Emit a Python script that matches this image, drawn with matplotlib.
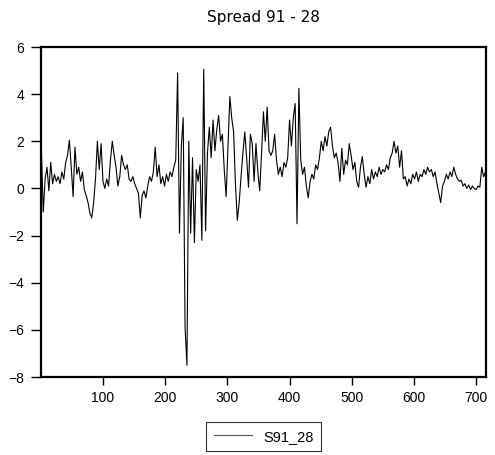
import numpy as np
import matplotlib
matplotlib.use("Agg")
import matplotlib.pyplot as plt

plt.rcParams["font.family"] = ["Liberation Sans", "DejaVu Sans"]

obs = np.arange(1, 716, 3)

s91_28 = [
    1.6, -1.0, 0.4, 0.9, -0.1, 1.1, 0.2, 0.6, 0.3, 0.5,
    0.2, 0.7, 0.4, 1.1, 1.4, 2.05, 0.9, -0.35, 1.75, 0.6,
    0.9, 0.3, 0.7, -0.05, -0.3, -0.6, -1.05, -1.25, -0.6, 0.4,
    2.0, 0.8, 1.9, 0.3, 0.0, 0.4, 0.1, 1.2, 2.0, 1.4,
    0.9, 0.1, 0.5, 1.4, 1.0, 0.8, 1.0, 0.4, 0.3, 0.5,
    0.2, 0.0, -0.2, -1.25, -0.3, -0.1, -0.4, 0.1, 0.5, 0.3,
    0.7, 1.75, 0.5, 1.0, 0.2, 0.5, 0.1, 0.6, 0.3, 0.7,
    0.5, 0.9, 1.2, 4.9, -1.9, 1.8, 3.0, -5.9, -7.5, 2.0,
    -1.9, 1.3, -2.3, 0.8, 0.3, 1.0, -2.2, 5.05, -1.8, 1.5,
    2.6, 1.3, 2.9, 1.6, 2.5, 3.1, 2.0, 2.3, 0.8, -0.35,
    1.8, 3.9, 3.0, 2.4, 0.2, -1.35, -0.6, 0.5, 1.5, 2.4,
    1.3, 0.05, 2.3, 1.9, 0.3, 1.9, 0.7, -0.1, 1.5, 3.25,
    2.0, 3.45, 1.6, 1.4, 1.6, 2.3, 1.2, 0.6, 0.9, 0.5,
    1.1, 0.9, 1.3, 2.9, 1.8, 3.0, 3.6, -1.5, 4.25, 1.2,
    0.6, 0.9, 0.1, -0.4, 0.3, 0.6, 0.4, 1.0, 0.8, 1.3,
    2.0, 1.6, 2.2, 1.8, 2.4, 2.6, 1.8, 1.3, 1.5, 1.1,
    0.3, 1.7, 0.6, 1.2, 1.0, 1.9, 1.4, 0.8, 1.1, 0.3,
    0.05, 0.9, 1.35, 0.6, 0.05, 0.5, 0.2, 0.8, 0.4, 0.7,
    0.5, 0.9, 0.6, 0.8, 0.7, 1.0, 0.8, 1.3, 1.5, 2.0,
    1.5, 1.8, 0.9, 1.6, 0.4, 0.5, 0.1, 0.4, 0.2, 0.6,
    0.4, 0.7, 0.3, 0.6, 0.5, 0.8, 0.6, 0.9, 0.7, 0.8,
    0.5, 0.7, 0.2, -0.2, -0.6, 0.1, 0.3, 0.6, 0.4, 0.7,
    0.5, 0.9, 0.6, 0.4, 0.3, 0.35, 0.1, 0.2, 0.0, 0.15,
    -0.05, 0.1, 0.0, -0.05, 0.1, 0.05, 0.9, 0.5, 0.7,
]

x_ticks = [100, 200, 300, 400, 500, 600, 700]
y_ticks = [-8, -6, -4, -2, 0, 2, 4, 6]

fig = plt.figure(figsize=(4.95, 4.55), dpi=100)
ax = fig.add_axes([0.083, 0.1714, 0.899, 0.7253])

ax.plot(obs, s91_28, color="black", linewidth=0.8, label="S91_28")

ax.set_xlim(0.5, 716)
ax.set_ylim(-8, 6)
ax.set_xticks(x_ticks)
ax.set_yticks(y_ticks)
ax.tick_params(axis="y", direction="out", length=7, width=1, labelsize=10, pad=5)
ax.tick_params(axis="x", direction="out", length=6, width=1, labelsize=10, pad=4)
for sp in ax.spines.values():
    sp.set_linewidth(1.6)

ax.set_title("Spread 91 - 28", fontsize=11, family=["Verdana", "DejaVu Sans"],
             fontstretch="normal", pad=18)

leg = ax.legend(loc="upper center", bbox_to_anchor=(0.5, -0.115), ncol=1,
                frameon=True, fancybox=False, fontsize=10.5,
                handlelength=2.6, borderpad=0.5)
leg.get_frame().set_edgecolor("black")
leg.get_frame().set_linewidth(0.8)
leg.get_lines()[0].set_color("#555555")

fig.savefig("out.png", dpi=100)
